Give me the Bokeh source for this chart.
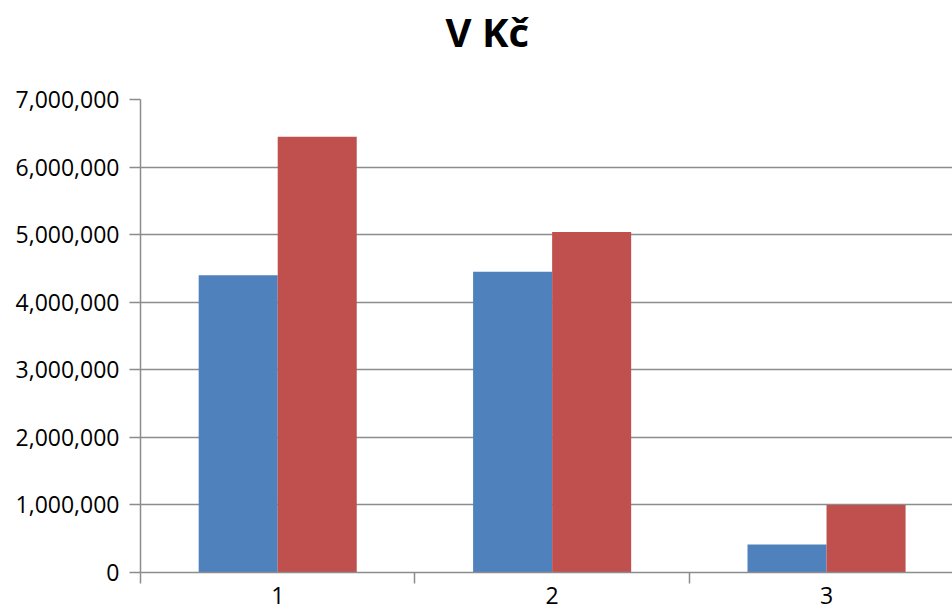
from bokeh.plotting import figure
from bokeh.models import Range1d, FixedTicker, NumeralTickFormatter, ColumnDataSource, LinearAxis
from bokeh.embed import file_html
from bokeh.resources import INLINE

title_text = "V Kč"
categories = ["1", "2", "3"]
series_blue = [4400000, 4450000, 415000]
series_red = [6450000, 5040000, 1000000]
y_ticks = [0, 1000000, 2000000, 3000000, 4000000, 5000000, 6000000, 7000000]

BLUE = "#4F81BD"
RED = "#C0504D"
GRID = "#8c8c8c"
FONT = "Open Sans"

pos = [i + 1 for i in range(len(categories))]
bw = 0.288

src_b = ColumnDataSource(dict(x=[p - bw / 2 for p in pos], top=series_blue))
src_r = ColumnDataSource(dict(x=[p + bw / 2 for p in pos], top=series_red))

p = figure(width=952, height=612, output_backend="svg", toolbar_location=None,
           x_range=Range1d(0.5, 3.459), y_range=Range1d(0, 7000000),
           min_border_left=140, min_border_right=0, min_border_top=99, min_border_bottom=40)
p.outline_line_color = None
p.background_fill_color = "white"
p.border_fill_color = "white"

p.vbar(x="x", top="top", width=bw, bottom=0, source=src_b, fill_color=BLUE, line_color=None)
p.vbar(x="x", top="top", width=bw, bottom=0, source=src_r, fill_color=RED, line_color=None)

p.title.text = title_text
p.title.text_font = FONT
p.title.text_font_size = "40px"
p.title.text_font_style = "bold"
p.title.text_color = "black"
p.title.align = "left"
p.title.offset = 305
p.title.vertical_align = "bottom"
p.title.standoff = 0

# y axis
ya = p.left[0]
ya.ticker = FixedTicker(ticks=y_ticks)
ya.formatter = NumeralTickFormatter(format="0,0")
ya.major_label_text_font = FONT
ya.major_label_text_font_size = "23px"
ya.major_label_text_color = "black"
ya.major_tick_out = 11
ya.major_tick_in = 0
ya.minor_tick_out = 0
ya.minor_tick_in = 0
ya.major_label_standoff = 10
ya.axis_line_color = GRID
ya.axis_line_width = 1.5
ya.major_tick_line_color = GRID
ya.major_tick_line_width = 1.5

# x axis (bottom)
xa = p.below[0]
xa.ticker = FixedTicker(ticks=pos, minor_ticks=[0.5, 1.5, 2.5, 3.5])
xa.major_label_overrides = {pp: c for pp, c in zip(pos, categories)}
xa.major_label_text_font = FONT
xa.major_label_text_font_size = "23px"
xa.major_label_text_color = "black"
xa.major_tick_out = 0
xa.major_tick_in = 0
xa.minor_tick_out = 11
xa.minor_tick_in = 0
xa.minor_tick_line_color = GRID
xa.minor_tick_line_width = 1.5
xa.major_label_standoff = 3
xa.axis_line_color = GRID
xa.axis_line_width = 1.5

# invisible spacer between frame and title
spacer = LinearAxis(ticker=FixedTicker(ticks=[1], minor_ticks=[]), major_tick_out=41, major_tick_in=0,
                    minor_tick_out=0, minor_tick_in=0, major_label_standoff=0,
                    major_label_overrides={1: ""},
                    axis_line_color=None, major_tick_line_color=None,
                    minor_tick_line_color=None, major_label_text_font_size="1px",
                    major_label_text_color=None)
p.add_layout(spacer, "above")

p.xgrid.grid_line_color = None
p.ygrid.ticker = FixedTicker(ticks=y_ticks)
p.ygrid.grid_line_color = GRID
p.ygrid.grid_line_width = 1.5

open("out.html", "w").write(file_html(p, INLINE))
